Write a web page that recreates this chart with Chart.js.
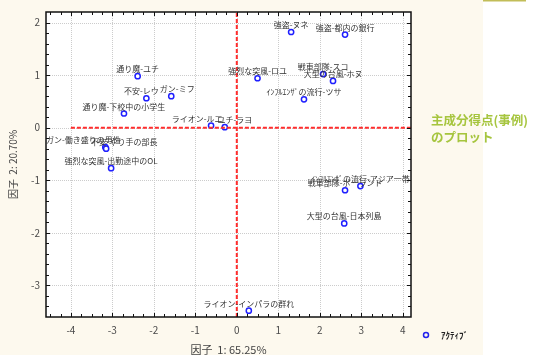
<!DOCTYPE html>
<html><head><meta charset="utf-8">
<script src="https://cdn.jsdelivr.net/npm/chart.js@4"></script>
<style>html,body{margin:0;padding:0;background:#fff}#wrap{width:536px;height:355px;position:relative}</style>
</head><body><div id="wrap"><canvas id="c" width="536" height="355"></canvas></div>
<script>
// ---- data ----
const caseLabels = [
  '強盗-ヌネ','強盗-都内の銀行','通り魔-ユチ','強烈な突風-ロユ','戦車部隊-スコ','大型の台風-ホヌ',
  '不安-レウ','ガン-ミフ','ｲﾝﾌﾙｴﾝｻﾞの流行-ツサ','通り魔-下校中の小学生','ライオン-ルエ','ユチ-ラヨ',
  'ガン-働き盛りの男性','不安-やり手の部長','強烈な突風-出勤途中のOL','ｲﾝﾌﾙｴﾝｻﾞの流行-アジア一帯',
  '戦車部隊-ポーランド','大型の台風-日本列島','ライオン-インパラの群れ'
];
const factor1 = [1.31, 2.61, -2.39, 0.50, 2.08, 2.32, -2.18, -1.58, 1.62, -2.72, -0.62, -0.29,
  -3.17, -3.15, -3.03, 2.98, 2.61, 2.59, 0.29];
const factor2 = [1.82, 1.77, 0.98, 0.94, 1.02, 0.89, 0.56, 0.60, 0.54, 0.27, 0.04, 0.01,
  -0.37, -0.40, -0.77, -1.11, -1.19, -1.82, -3.48];
const xTickValues = [-4,-3,-2,-1,0,1,2,3,4];
const yTickValues = [-3,-2,-1,0,1,2];
const xRange = [-4.6, 4.2];
const yRange = [-3.6, 2.2];
const xTitle = '因子  1: 65.25%';
const yTitle = '因子  2: 20.70%';
const legendText = 'ｱｸﾃｨﾌﾞ';
const noteLines = ['主成分得点(事例)', 'のプロット'];

// label nudges (layout only, to mimic overlap avoidance)
const labelNudge = {'ライオン-ルエ': -14, 'ユチ-ラヨ': 10, 'ガン-ミフ': 6, '不安-レウ': -5,
  'ガン-働き盛りの男性': -22, '不安-やり手の部長': 18};

const FONT = '"Noto Sans CJK JP", "Noto Sans", sans-serif';
Chart.defaults.font.family = FONT;

const points = factor1.map((x, i) => ({x: x, y: factor2[i]}));

const bgPlugin = {
  id: 'bg',
  beforeDraw(chart) {
    const c = chart.ctx, a = chart.chartArea;
    c.save();
    c.fillStyle = '#ffffff'; c.fillRect(0, 0, chart.width, chart.height);
    c.fillStyle = '#fdf9ee'; c.fillRect(0, 0, 483, chart.height);
    c.fillStyle = '#c2bd58'; c.fillRect(483, 0, 43, 1.5);
    c.fillStyle = '#ffffff'; c.fillRect(a.left, a.top, a.right - a.left, a.bottom - a.top);
    // dotted grid
    const xs = chart.scales.x, ys = chart.scales.y;
    c.strokeStyle = '#cccccc'; c.lineWidth = 1; c.setLineDash([1, 1]);
    xTickValues.forEach(v => { const p = Math.round(xs.getPixelForValue(v)) + 0.5;
      c.beginPath(); c.moveTo(p, a.top); c.lineTo(p, a.bottom); c.stroke(); });
    yTickValues.forEach(v => { const p = Math.round(ys.getPixelForValue(v)) + 0.5;
      c.beginPath(); c.moveTo(a.left, p); c.lineTo(a.right, p); c.stroke(); });
    c.restore();
  },
  afterDatasetsDraw(chart) {
    const c = chart.ctx;
    const meta = chart.getDatasetMeta(2);
    c.save();
    c.font = '8px ' + FONT; c.fillStyle = '#333'; c.textAlign = 'center'; c.textBaseline = 'middle';
    meta.data.forEach((el, i) => {
      const t = caseLabels[i];
      c.fillText(t, el.x + (labelNudge[t] || 0), el.y - 7);
    });
    c.restore();
  },
  afterDraw(chart) {
    const c = chart.ctx, a = chart.chartArea;
    const xs = chart.scales.x, ys = chart.scales.y;
    c.save();
    // frame
    c.strokeStyle = '#111'; c.lineWidth = 1.5;
    c.strokeRect(a.left, a.top, a.right - a.left, a.bottom - a.top);
    // ticks (inward)
    c.lineWidth = 1;
    for (let v = -4.5; v <= xRange[1] + 1e-9; v += 0.25) {
      const p = Math.round(xs.getPixelForValue(v)) + 0.5;
      const L = Math.abs(v - Math.round(v)) < 1e-6 ? 4 : 3;
      c.beginPath(); c.moveTo(p, a.bottom); c.lineTo(p, a.bottom - L);
      c.moveTo(p, a.top); c.lineTo(p, a.top + L); c.stroke();
    }
    for (let k = -17; k <= 10; k++) {
      const v = k * 0.2;
      const p = Math.round(ys.getPixelForValue(v)) + 0.5;
      const L = Math.abs(v - Math.round(v)) < 1e-6 ? 4 : 3;
      c.beginPath(); c.moveTo(a.left, p); c.lineTo(a.left + L, p);
      c.moveTo(a.right, p); c.lineTo(a.right - L, p); c.stroke();
    }
    // legend
    c.strokeStyle = '#2222ee'; c.lineWidth = 1.5;
    c.beginPath(); c.arc(426, 335, 2.5, 0, Math.PI * 2); c.stroke();
    c.fillStyle = '#222'; c.font = 'bold 9px ' + FONT; c.textAlign = 'left'; c.textBaseline = 'middle';
    c.fillText(legendText, 441, 336);
    // note
    c.fillStyle = '#a6c53e'; c.font = 'bold 12.5px ' + FONT;
    c.fillText(noteLines[0], 431, 120);
    c.fillText(noteLines[1], 431, 137);
    c.restore();
  }
};

new Chart(document.getElementById('c'), {
  type: 'scatter',
  data: {
    datasets: [
      {data: [{x: 0, y: yRange[0]}, {x: 0, y: yRange[1]}], showLine: true, pointRadius: 0,
        borderColor: '#ff2d2d', borderWidth: 2, borderDash: [4, 2]},
      {data: [{x: xTickValues[0], y: 0}, {x: xRange[1], y: 0}], showLine: true, pointRadius: 0,
        borderColor: '#ff2d2d', borderWidth: 2, borderDash: [4, 2]},
      {data: points, pointRadius: 2.6, pointBorderWidth: 1.5, borderColor: '#1f1fff',
        backgroundColor: '#ffffff', pointStyle: 'circle'}
    ]
  },
  options: {
    responsive: false, animation: false, devicePixelRatio: 1,
    layout: {padding: {top: 12, right: 125, left: 0, bottom: 0}},
    plugins: {legend: {display: false}, tooltip: {enabled: false}},
    scales: {
      x: {
        type: 'linear', min: xRange[0], max: xRange[1],
        afterBuildTicks: s => { s.ticks = xTickValues.map(v => ({value: v})); },
        afterFit: s => { s.height = 38; },
        grid: {display: false, drawTicks: false}, border: {display: false},
        ticks: {font: {size: 10}, color: '#4a4a4a', padding: 7, maxRotation: 0},
        title: {display: true, text: xTitle, font: {size: 11, lineHeight: 0.95}, color: '#444', padding: {top: 0, bottom: 0}}
      },
      y: {
        type: 'linear', min: yRange[0], max: yRange[1],
        afterBuildTicks: s => { s.ticks = yTickValues.map(v => ({value: v})); },
        afterFit: s => { s.width = 46; },
        grid: {display: false, drawTicks: false}, border: {display: false},
        ticks: {font: {size: 10}, color: '#4a4a4a', padding: 6},
        title: {display: true, text: yTitle, font: {size: 10}, color: '#444', padding: {top: 7, bottom: 0}}
      }
    }
  },
  plugins: [bgPlugin]
});
</script>
</body></html>
